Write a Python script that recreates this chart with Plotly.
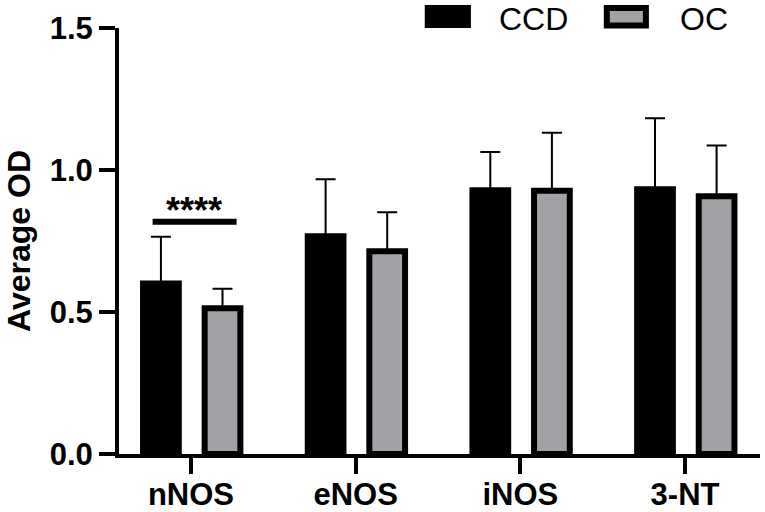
"""Average OD of NOS isoforms and 3-NT, CCD vs OC."""

import plotly.graph_objects as go

FONT = 'Arial, Liberation Sans, sans-serif'
BLACK = '#000000'
GRAY = '#a2a2a6'

categories = ['nNOS', 'eNOS', 'iNOS', '3-NT']
ccd_mean = [0.600, 0.767, 0.929, 0.932]
ccd_sd = [0.165, 0.200, 0.134, 0.250]
oc_mean = [0.513, 0.714, 0.927, 0.908]
oc_sd = [0.069, 0.137, 0.204, 0.178]
y_ticks = [0.0, 0.5, 1.0, 1.5]

# significance bar over nNOS
sig_label = '****'
sig_y = 0.818

x = list(range(len(categories)))
bar_w = 0.217

fig = go.Figure()
fig.add_trace(go.Bar(
    x=x, y=ccd_mean, name='CCD', width=bar_w, offset=-0.291,
    marker=dict(color=BLACK, line=dict(color=BLACK, width=6)),
    error_y=dict(type='data', symmetric=False, array=ccd_sd, arrayminus=[0] * 4,
                 color=BLACK, thickness=2, width=10),
))
fig.add_trace(go.Bar(
    x=x, y=oc_mean, name='OC', width=bar_w, offset=0.083,
    marker=dict(color=GRAY, line=dict(color=BLACK, width=6)),
    error_y=dict(type='data', symmetric=False, array=oc_sd, arrayminus=[0] * 4,
                 color=BLACK, thickness=2, width=10),
))

# significance line + stars
fig.add_shape(type='line', xref='x', yref='y', x0=-0.233, x1=0.277, y0=sig_y, y1=sig_y,
              line=dict(color=BLACK, width=6))
fig.add_annotation(x=0.02, y=sig_y, xref='x', yref='y', text=sig_label, showarrow=False,
                   yanchor='bottom', yshift=-11,
                   font=dict(family=FONT, size=36, color=BLACK, weight='bold'))

# hand-built legend to get Prism-like swatches
fig.add_shape(type='rect', xref='paper', yref='paper', x0=0.477, x1=0.549, y0=1.0, y1=1.054,
              fillcolor=BLACK, line=dict(color=BLACK, width=0))
fig.add_shape(type='rect', xref='paper', yref='paper', x0=0.761, x1=0.822, y0=1.006, y1=1.047,
              fillcolor=GRAY, line=dict(color=BLACK, width=6))
fig.add_annotation(x=0.589, y=1.022, xref='paper', yref='paper', text='CCD', showarrow=False,
                   xanchor='left', yanchor='middle', font=dict(family=FONT, size=32, color=BLACK))
fig.add_annotation(x=0.872, y=1.022, xref='paper', yref='paper', text='OC', showarrow=False,
                   xanchor='left', yanchor='middle', font=dict(family=FONT, size=32, color=BLACK))

# y-axis title as a rotated annotation so it can sit near the left edge
fig.add_annotation(x=-0.156, y=0.5, xref='paper', yref='paper', text='Average OD',
                   showarrow=False, textangle=-90, xanchor='center', yanchor='middle',
                   font=dict(family=FONT, size=32, color=BLACK, weight='bold'))

fig.update_layout(
    width=765,
    height=512,
    margin=dict(l=119, r=5, t=28, b=58),
    paper_bgcolor='white',
    plot_bgcolor='white',
    showlegend=False,
    barmode='overlay',
    font=dict(family=FONT, color=BLACK),
    xaxis=dict(
        range=[-0.437, 3.455], tickmode='array', tickvals=x, ticktext=categories,
        showline=True, linecolor=BLACK, linewidth=4, showgrid=False, zeroline=False,
        ticks='outside', ticklen=16, tickwidth=4, tickcolor=BLACK, automargin=False,
        ticklabelstandoff=-6,
        tickfont=dict(family=FONT, size=31, color=BLACK, weight='bold'),
    ),
    yaxis=dict(
        range=[0, 1.5], tickmode='array', tickvals=y_ticks, tickformat='.1f',
        showline=True, linecolor=BLACK, linewidth=4, showgrid=False, zeroline=False,
        ticks='outside', ticklen=16, tickwidth=4, tickcolor=BLACK, automargin=False,
        tickfont=dict(family=FONT, size=31, color=BLACK, weight='bold'),
    ),
)

# drop the default 8px body margin so the figure fills the window exactly
fig.write_html('out.html', config={'displayModeBar': False},
               post_script="document.body.style.margin='0';")
